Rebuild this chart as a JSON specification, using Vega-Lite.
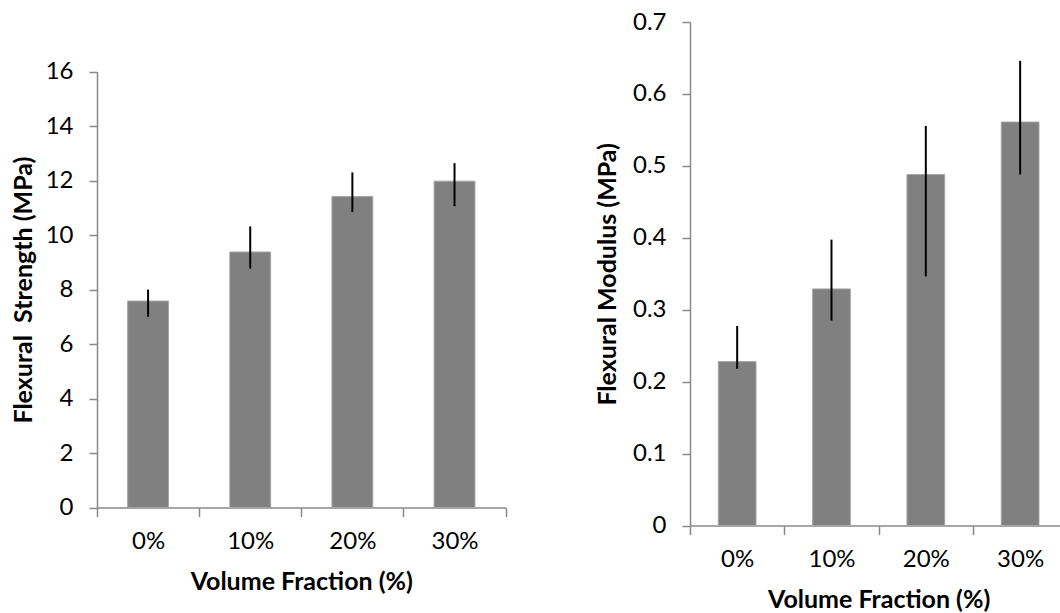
{
  "$schema": "https://vega.github.io/schema/vega-lite/v6.json",
  "background": "white",
  "padding": {"left": 11, "top": 10, "right": 0, "bottom": 0},
  "spacing": 88,
  "datasets": {
    "strength": [
      {"fraction": "0%", "value": 7.58, "lo": 7.0, "hi": 8.0},
      {"fraction": "10%", "value": 9.38, "lo": 8.77, "hi": 10.32},
      {"fraction": "20%", "value": 11.42, "lo": 10.85, "hi": 12.3},
      {"fraction": "30%", "value": 11.98, "lo": 11.06, "hi": 12.64}
    ],
    "modulus": [
      {"fraction": "0%", "value": 0.228, "lo": 0.218, "hi": 0.2775},
      {"fraction": "10%", "value": 0.329, "lo": 0.285, "hi": 0.3975},
      {"fraction": "20%", "value": 0.488, "lo": 0.3465, "hi": 0.5555},
      {"fraction": "30%", "value": 0.561, "lo": 0.488, "hi": 0.646}
    ]
  },
  "config": {
    "font": "Lato",
    "view": {"stroke": null},
    "axis": {
      "grid": false,
      "domainColor": "#888888",
      "domainWidth": 1.5,
      "tickColor": "#888888",
      "tickWidth": 1.5,
      "labelFont": "Lato",
      "labelFontSize": 24,
      "labelColor": "#000000",
      "titleFont": "Lato",
      "titleFontSize": 25,
      "titleFontWeight": "bold",
      "titleColor": "#000000"
    },
    "axisX": {"tickSize": 9, "labelPadding": 13, "titlePadding": 16, "labelAngle": 0, "tickBand": "extent"},
    "axisY": {"tickSize": 8, "labelPadding": 16, "titlePadding": 9}
  },
  "hconcat": [
    {
      "width": 408.6,
      "height": 485.6,
      "data": {"name": "strength"},
      "encoding": {
        "x": {
          "field": "fraction",
          "type": "nominal",
          "sort": null,
          "scale": {"paddingInner": 0, "paddingOuter": 0},
          "axis": {"title": "Volume Fraction (%)"}
        }
      },
      "layer": [
        {
          "mark": {"type": "bar", "color": "#808080", "stroke": "#a6a6a6", "strokeWidth": 1, "width": {"band": 0.4}},
          "encoding": {
            "y": {
              "field": "value",
              "type": "quantitative",
              "scale": {"domain": [0, 16], "range": [485.6, 49.6], "nice": false},
              "axis": {"title": "Flexural\u00a0 Strength (MPa)", "values": [0, 2, 4, 6, 8, 10, 12, 14, 16], "format": "d"}
            }
          }
        },
        {
          "mark": {"type": "rule", "color": "#000000", "strokeWidth": 2},
          "encoding": {
            "y": {"field": "lo", "type": "quantitative"},
            "y2": {"field": "hi"}
          }
        }
      ]
    },
    {
      "width": 377.3,
      "height": 503.6,
      "data": {"name": "modulus"},
      "encoding": {
        "x": {
          "field": "fraction",
          "type": "nominal",
          "sort": null,
          "scale": {"paddingInner": 0, "paddingOuter": 0},
          "axis": {"title": "Volume Fraction (%)"}
        }
      },
      "layer": [
        {
          "mark": {"type": "bar", "color": "#808080", "stroke": "#a6a6a6", "strokeWidth": 1, "width": {"band": 0.4}},
          "encoding": {
            "y": {
              "field": "value",
              "type": "quantitative",
              "scale": {"domain": [0, 0.7], "nice": false},
              "axis": {"title": "Flexural Modulus (MPa)", "values": [0, 0.1, 0.2, 0.3, 0.4, 0.5, 0.6, 0.7], "format": "~g", "titlePadding": 12}
            }
          }
        },
        {
          "mark": {"type": "rule", "color": "#000000", "strokeWidth": 2},
          "encoding": {
            "y": {"field": "lo", "type": "quantitative"},
            "y2": {"field": "hi"}
          }
        }
      ]
    }
  ]
}
